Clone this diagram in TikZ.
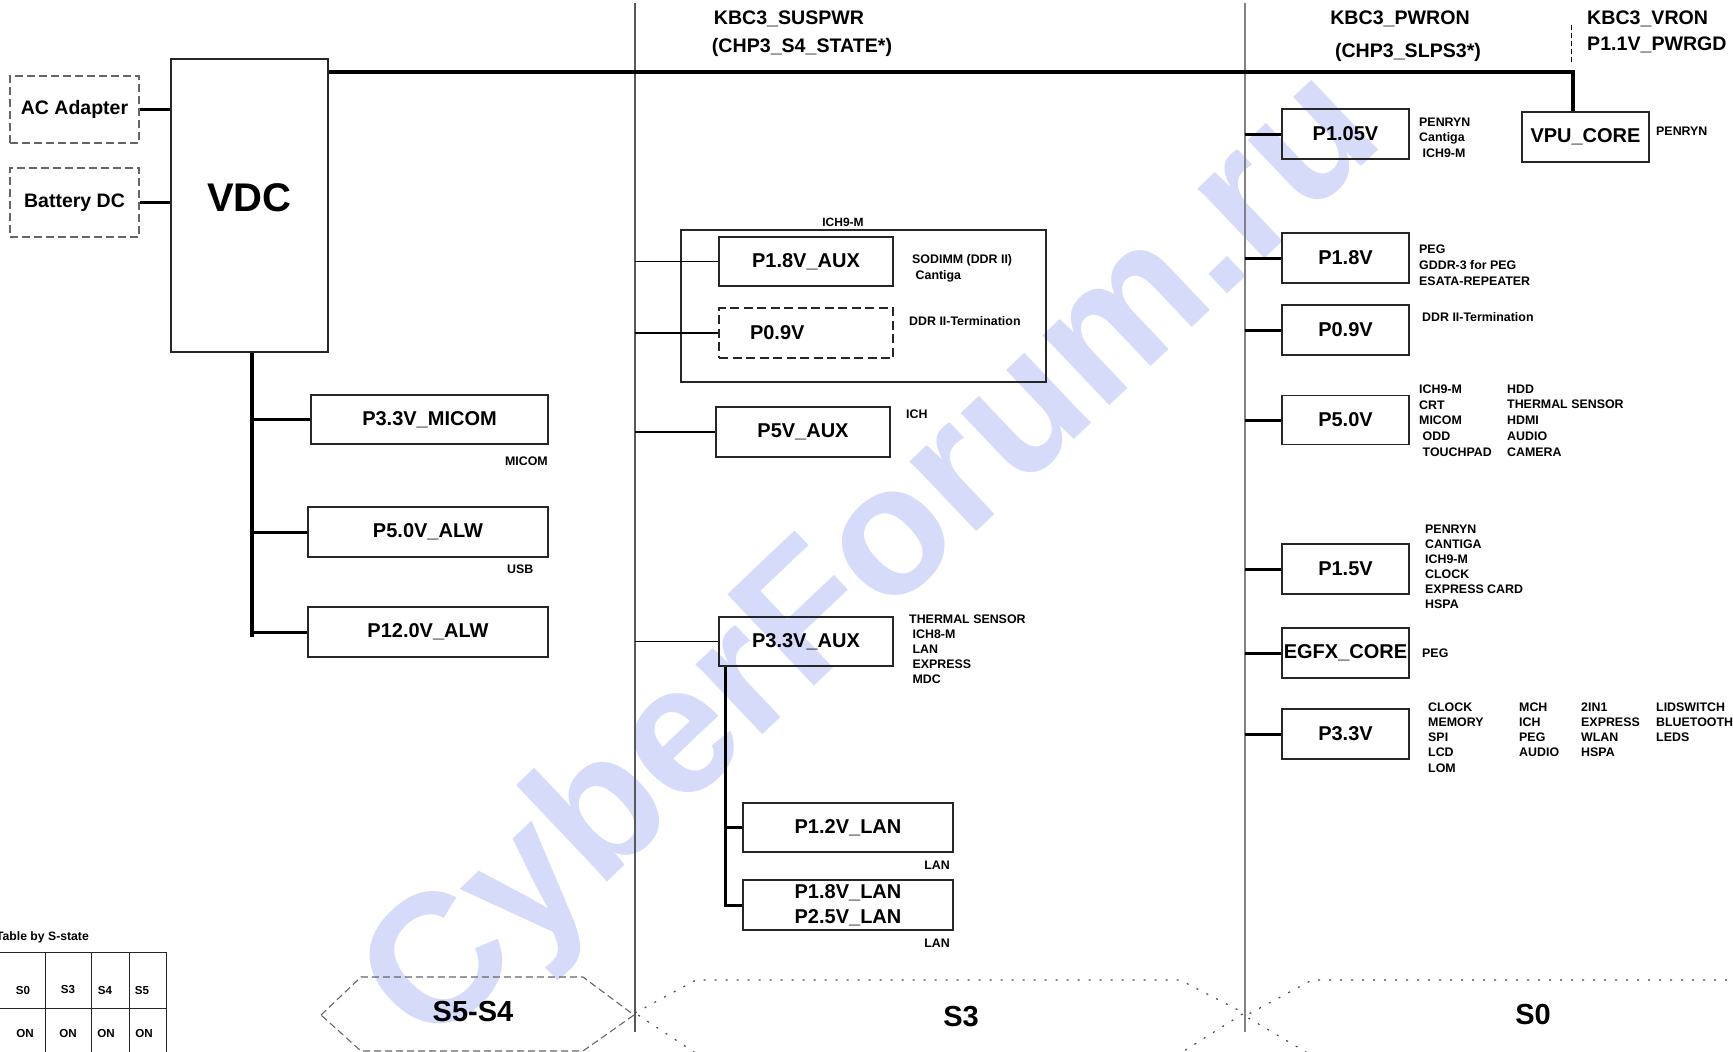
\documentclass[tikz,border=0pt]{standalone}
\usepackage{fontspec}
\setmainfont{Liberation Sans}
\usetikzlibrary{positioning}
\definecolor{wmblue}{RGB}{214,219,250}
\definecolor{railgray}{RGB}{130,130,130}

\begin{document}
\begin{tikzpicture}[
    x=1pt, y=-1pt,
    pbox/.style={rectangle, draw=black!85, line width=1.2pt, inner sep=0pt,
                 minimum height=50pt, font=\fontsize{20}{24}\selectfont\bfseries},
    srcbox/.style={pbox, draw=black!60, dash pattern=on 8pt off 4pt,
                 minimum width=129pt, font=\fontsize{19.5}{22}\selectfont\bfseries},
    s0box/.style={pbox, minimum width=127pt},
    auxbox/.style={pbox, minimum width=174pt},
    lanbox/.style={pbox, minimum width=210pt, align=center,
                 font=\fontsize{20}{25}\selectfont\bfseries},
    alwbox/.style={pbox, minimum width=240pt},
    note/.style={inner sep=0pt, align=left, font=\fontsize{12.4}{15.5}\selectfont\bfseries},
    hdr/.style={inner sep=0pt, font=\fontsize{19.6}{23}\selectfont\bfseries},
    stlabel/.style={inner sep=0pt, font=\fontsize{29}{32}\selectfont\bfseries},
    cell/.style={inner sep=0pt, font=\fontsize{11.6}{14}\selectfont\bfseries},
    bus/.style={line width=3.8pt},
    feed/.style={line width=3pt},
    tap/.style={line width=1.6pt},
    divider/.style={line width=1.4pt, draw=black!65},
    frame/.style={line width=1.2pt, draw=black!85},
    dotline/.style={draw=black!70, line width=1.2pt, dash pattern=on 2pt off 9pt}
  ]
  \path[use as bounding box, fill=white] (0,0) rectangle (1733,1052);
  \clip (0,0) rectangle (1733,1052);

  % watermark
  \node[text=wmblue, rotate=43.5, inner sep=0pt, font=\fontsize{183}{183}\selectfont\bfseries] (wm) at (876,562) {CyberForum.ru};

  % state dividers
  \coordinate (ltop) at (635,3);
  \coordinate (lbot) at (635,1032);
  \coordinate (rtop) at (1245,3);
  \coordinate (rbot) at (1245,1032);
  \draw[divider] (ltop) -- (lbot);
  \draw[divider, line width=2pt, draw=railgray] (rtop) -- (rbot);

  % enable signals
  \node[hdr] (kbcsus) at (789,19) {KBC3\_SUSPWR};
  \node[hdr] (chps4) at (802,47) {(CHP3\_S4\_STATE*)};
  \node[hdr] (kbcpwr) at (1400,19) {KBC3\_PWRON};
  \node[hdr] (chps3) at (1408,52) {(CHP3\_SLPS3*)};
  \node[hdr, anchor=west] (kbcvr) at (1587,19) {KBC3\_VRON};
  \node[hdr, anchor=west] (pwrgd) at (1587,45) {P1.1V\_PWRGD};
  \coordinate (vrtop) at (1571,25);
  \coordinate (vrbot) at (1571,65);
  \draw[line width=1pt, dash pattern=on 5pt off 3pt] (vrtop) -- (vrbot);

  % sources
  \node[srcbox, minimum height=67pt] (ac) at (74.5,109.5) {AC Adapter};
  \node[srcbox, minimum height=69pt] (bat) at (74.5,202.5) {Battery DC};
  \node[pbox, minimum width=157pt, minimum height=293pt, text depth=16pt,
        font=\fontsize{40}{44}\selectfont\bfseries] (vdc) at (249.5,205.5) {VDC};
  \draw[feed] (ac) -- (ac -| vdc.west);
  \draw[feed] (bat) -- (bat -| vdc.west);

  % S0 rails
  \node[s0box] (vpu) at (1585.5,137) {VPU\_CORE};
  \coordinate (busend) at (1573,72);
  \draw[bus] (vdc.east |- busend) -- (busend) -- (busend |- vpu.north);

  % always-on rails
  \coordinate (lbus) at (252,637);
  \draw[bus] (vdc.south -| lbus) -- (lbus);
  \node[alwbox, minimum width=237pt, minimum height=49pt] (micom) at (429.5,419.5) {P3.3V\_MICOM};
  \node[alwbox] (alw5) at (428,532) {P5.0V\_ALW};
  \node[alwbox] (alw12) at (428,632) {P12.0V\_ALW};
  \draw[feed] (micom.west -| lbus) -- (micom.west);
  \draw[feed] (alw5.west -| lbus) -- (alw5.west);
  \draw[feed] (alw12.west -| lbus) -- (alw12.west);
  \node[note, anchor=east] (micomuse) at (548,461) {MICOM};
  \node[note, anchor=west] (usbuse) at (507,569) {USB};

  % S3 rails
  \node[rectangle, frame, minimum width=365pt, minimum height=152pt] (ich) at (863.5,306) {};
  \node[note, font=\fontsize{12}{14}\selectfont\bfseries] (ichlbl) at (843,222) {ICH9-M};
  \node[auxbox, minimum height=49pt] (aux18) at (806,261.5) {P1.8V\_AUX};
  \node[auxbox, dash pattern=on 9pt off 4.5pt, text width=112pt, inner xsep=31pt,
        align=left] (aux09) at (806,333) {P0.9V};
  \node[auxbox] (aux5) at (803,432) {P5V\_AUX};
  \node[auxbox, minimum height=49pt] (aux33) at (806,641.5) {P3.3V\_AUX};
  \draw[tap] (aux18.west -| ltop) -- (aux18.west);
  \draw[tap] (aux09.west -| ltop) -- (aux09.west);
  \draw[tap] (aux5.west -| ltop) -- (aux5.west);
  \draw[tap] (aux33.west -| ltop) -- (aux33.west);
  \node[note, anchor=north west] (aux18use) at (912,254.5) {SODIMM (DDR II)\\\ Cantiga};
  \node[note, anchor=west] (aux09use) at (909,321) {DDR II-Termination};
  \node[note, anchor=west] (aux5use) at (906,414) {ICH};
  \node[note, anchor=north west, font=\fontsize{12.4}{15}\selectfont\bfseries] (aux33use) at (909,614.5)
    {THERMAL SENSOR\\\ ICH8-M\\\ LAN\\\ EXPRESS\\\ MDC};

  % LAN rails
  \coordinate (lanbus) at (725,905);
  \node[lanbox, minimum height=49pt] (lan12) at (848,827.5) {P1.2V\_LAN};
  \node[lanbox] (lan18) at (848,905) {P1.8V\_LAN\\P2.5V\_LAN};
  \draw[feed] (aux33.south -| lanbus) -- (lanbus) -- (lan18.west);
  \draw[feed] (lan12.west -| lanbus) -- (lan12.west);
  \node[note, anchor=east] (lan12use) at (950,865) {LAN};
  \node[note, anchor=east] (lan18use) at (950,943) {LAN};

  % S0 rails
  \node[s0box] (p105) at (1345.5,134) {P1.05V};
  \node[s0box] (p18) at (1345.5,258) {P1.8V};
  \node[s0box] (p09) at (1345.5,330) {P0.9V};
  \node[s0box, minimum height=49pt] (p50) at (1345.5,420) {P5.0V};
  \node[s0box] (p15) at (1345.5,569) {P1.5V};
  \node[s0box] (egfx) at (1345.5,653) {EGFX\_CORE};
  \node[s0box] (p33) at (1345.5,734) {P3.3V};
  \draw[feed] (p105.west -| rtop) -- (p105.west);
  \draw[feed] (p18.west -| rtop) -- (p18.west);
  \draw[feed] (p09.west -| rtop) -- (p09.west);
  \draw[feed] (p50.west -| rtop) -- (p50.west);
  \draw[feed] (p15.west -| rtop) -- (p15.west);
  \draw[feed] (egfx.west -| rtop) -- (egfx.west);
  \draw[feed] (p33.west -| rtop) -- (p33.west);

  \node[note, anchor=north west] (p105use) at (1419,117.5) {PENRYN\\Cantiga\\\ ICH9-M};
  \node[note, anchor=west] (vpuuse) at (1656,131) {PENRYN};
  \node[note, anchor=north west, font=\fontsize{12.4}{16}\selectfont\bfseries] (p18use) at (1419,244.5)
    {PEG\\GDDR-3 for PEG\\ESATA-REPEATER};
  \node[note, anchor=west] (p09use) at (1422,317) {DDR II-Termination};
  \node[note, anchor=north west, font=\fontsize{12.4}{15.7}\selectfont\bfseries] (p50usea) at (1419,384.5)
    {ICH9-M\\CRT\\MICOM\\\ ODD\\\ TOUCHPAD};
  \node[note, anchor=north west, font=\fontsize{12.4}{15.7}\selectfont\bfseries] (p50useb) at (1507,384.5)
    {HDD\\THERMAL SENSOR\\HDMI\\AUDIO\\CAMERA};
  \node[note, anchor=north west, font=\fontsize{12.4}{15}\selectfont\bfseries] (p15use) at (1425,524.5)
    {PENRYN\\CANTIGA\\ICH9-M\\CLOCK\\EXPRESS CARD\\HSPA};
  \node[note, anchor=west] (egfxuse) at (1422,653) {PEG};
  \node[note, anchor=north west, font=\fontsize{12.4}{15.2}\selectfont\bfseries] (p33usea) at (1428,702.5)
    {CLOCK\\MEMORY\\SPI\\LCD\\LOM};
  \node[note, anchor=north west, font=\fontsize{12.4}{15.2}\selectfont\bfseries] (p33useb) at (1519,702.5)
    {MCH\\ICH\\PEG\\AUDIO};
  \node[note, anchor=north west, font=\fontsize{12.4}{15.2}\selectfont\bfseries] (p33usec) at (1581,702.5)
    {2IN1\\EXPRESS\\WLAN\\HSPA};
  \node[note, anchor=north west, font=\fontsize{12.4}{15.2}\selectfont\bfseries] (p33used) at (1656,702.5)
    {LIDSWITCH\\BLUETOOTH\\LEDS};

  % S-state bands
  \draw[draw=black!60, line width=1.1pt, dash pattern=on 7pt off 4pt]
    (321,1015) -- (361,977) -- (583,977) -- (634,1015) -- (583,1051) -- (361,1051) -- cycle;
  \node[stlabel] (s54) at (473,1012) {S5-S4};
  \draw[dotline] (635,1013) -- (696,980) -- (1180,980) -- (1244,1013) -- (1176,1056) -- (700,1056) -- cycle;
  \node[stlabel] (s3) at (961,1017) {S3};
  \draw[dotline] (1760,980) -- (1312,980) -- (1245,1016) -- (1316,1058) -- (1760,1058);
  \node[stlabel] (s0) at (1533,1015) {S0};

  % table by S-state
  \node[cell, anchor=east, font=\fontsize{12.2}{14}\selectfont\bfseries] (tbltitle) at (89,937) {Table by S-state};
  \draw[frame, line width=1pt] (-2,952) -- (166,952) (-2,1008) -- (166,1008)
    (45,952) -- (45,1060) (91,952) -- (91,1060) (129,952) -- (129,1060) (166,952) -- (166,1060);
  \node[cell] (ts0) at (23,990) {S0};
  \node[cell] (ts3) at (68,990) {S3};
  \node[cell] (ts4) at (105,990) {S4};
  \node[cell] (ts5) at (142,990) {S5};
  \node[cell] (on0) at (25,1033) {ON};
  \node[cell] (on3) at (68,1033) {ON};
  \node[cell] (on4) at (106,1033) {ON};
  \node[cell] (on5) at (144,1033) {ON};
\end{tikzpicture}
\end{document}
